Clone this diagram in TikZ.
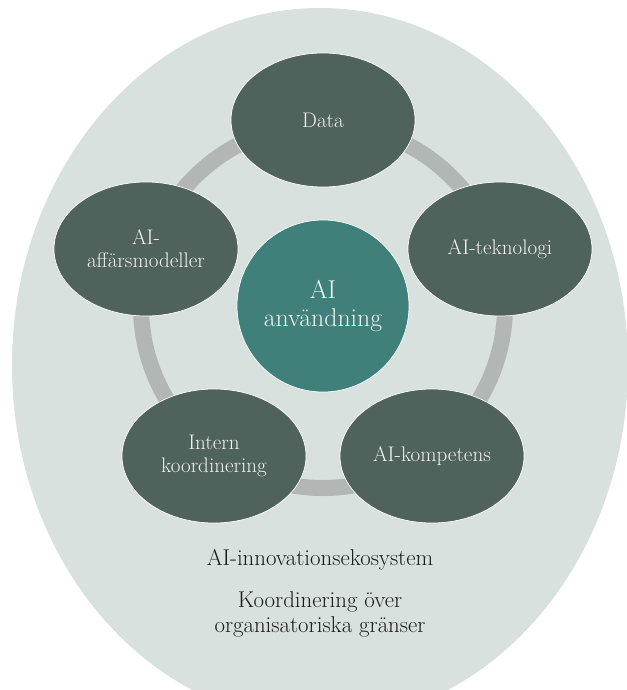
\documentclass[tikz,border=0pt]{standalone}
\usetikzlibrary{shapes.geometric}
\definecolor{bgfill}{HTML}{D9E1DE}
\definecolor{pillar}{HTML}{4F625C}
\definecolor{corefill}{HTML}{3F807B}
\definecolor{ringgray}{HTML}{B2B7B5}
\definecolor{darktext}{HTML}{1A1A1A}
\begin{document}
\begin{tikzpicture}[x=0.03cm, y=-0.03cm,
    pillarnode/.style={ellipse, fill=pillar, draw=white, line width=0.6pt,
      minimum width=5.52cm, minimum height=4.02cm, inner sep=0pt,
      text=white!95!black, align=center, font=\fontsize{18}{19.5}\selectfont},
    corenode/.style={circle, fill=corefill, draw=white, line width=0.6pt,
      minimum size=5.16cm, inner sep=0pt, text=white!95!black, align=center,
      font=\fontsize{22}{24.5}\selectfont},
    eco/.style={text=darktext, align=center, font=\fontsize{19.5}{21.5}\selectfont}]
  \useasboundingbox (0,0) rectangle (627,690);
  \clip (0,0) rectangle (627,690);
  % background
  \fill [bgfill] (320,365) ellipse [x radius=308, y radius=357];
  \coordinate (hub) at (323,306);
  % ring behind the pillars
  \draw [ringgray, line width=0.48cm] (hub) circle [radius=5.46cm];
  \node [corenode] (anv) at (hub) {AI\\användning};
  \node [pillarnode] (data) at (323,120) {Data};
  \node [pillarnode] (teknologi) at (500,249) {AI-teknologi};
  \node [pillarnode] (kompetens) at (432,456) {AI-kompetens};
  \node [pillarnode] (intern) at (214,456) {Intern\\koordinering};
  \node [pillarnode] (affar) at (146,249) {AI-\\affärsmodeller};
  \node [eco] (ekosystem) at (320,560) {AI-innovationsekosystem};
  \node [eco] (granser) at (320,614) {Koordinering över\\organisatoriska gränser};
\end{tikzpicture}
\end{document}
